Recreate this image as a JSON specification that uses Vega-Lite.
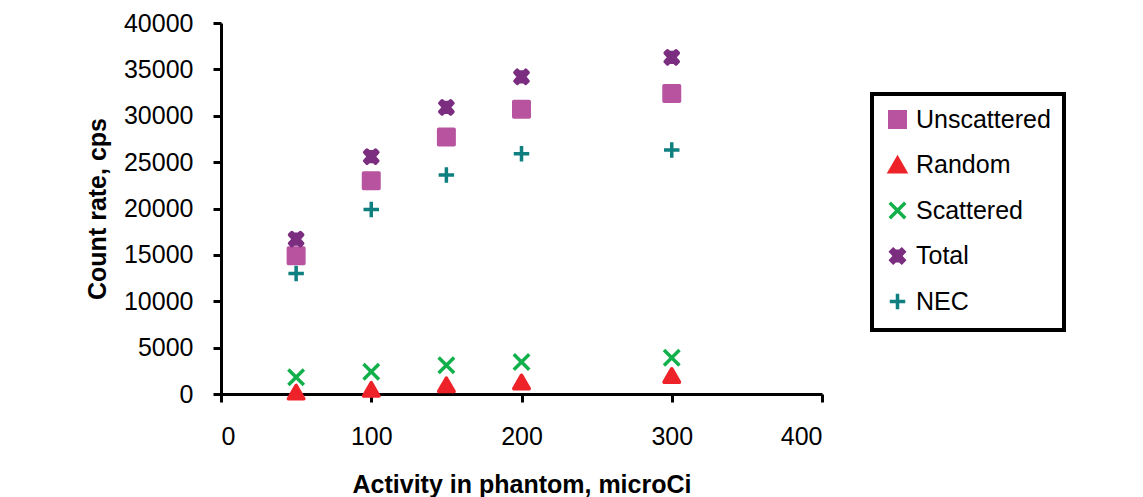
{
  "$schema": "https://vega.github.io/schema/vega-lite/v6.json",
  "autosize": {"type": "none"},
  "padding": {"left": 221, "top": 23, "right": 321, "bottom": 103},
  "width": 601,
  "height": 371,
  "background": "white",
  "config": {
    "view": {"stroke": null},
    "font": "Liberation Sans",
    "axis": {
      "grid": false,
      "domainColor": "black",
      "domainWidth": 3,
      "tickColor": "black",
      "tickWidth": 3,
      "tickSize": 8,
      "labelFont": "Liberation Sans",
      "labelFontSize": 25,
      "labelColor": "black",
      "titleFont": "Liberation Sans",
      "titleFontSize": 25,
      "titleFontWeight": "bold",
      "titleColor": "black"
    },
    "legend": {
      "orient": "none",
      "legendX": 651,
      "legendY": 71,
      "strokeColor": "black",
      "strokeWidth": 4,
      "padding": 13,
      "labelFont": "Liberation Sans",
      "labelFontSize": 25,
      "labelColor": "black",
      "labelOffset": 6,
      "rowPadding": 15.5,
      "symbolSize": 240,
      "symbolStrokeWidth": 3.5
    }
  },
  "data": {
    "values": [
      {"activity": 50, "series": "Unscattered", "rate": 14900},
      {"activity": 100, "series": "Unscattered", "rate": 23000},
      {"activity": 150, "series": "Unscattered", "rate": 27700},
      {"activity": 200, "series": "Unscattered", "rate": 30700},
      {"activity": 300, "series": "Unscattered", "rate": 32400},
      {"activity": 50, "series": "Random", "rate": 200},
      {"activity": 100, "series": "Random", "rate": 500},
      {"activity": 150, "series": "Random", "rate": 1000},
      {"activity": 200, "series": "Random", "rate": 1300},
      {"activity": 300, "series": "Random", "rate": 2000},
      {"activity": 50, "series": "Scattered", "rate": 1800},
      {"activity": 100, "series": "Scattered", "rate": 2400},
      {"activity": 150, "series": "Scattered", "rate": 3100},
      {"activity": 200, "series": "Scattered", "rate": 3450},
      {"activity": 300, "series": "Scattered", "rate": 3900},
      {"activity": 50, "series": "Total", "rate": 16700},
      {"activity": 100, "series": "Total", "rate": 25600},
      {"activity": 150, "series": "Total", "rate": 30900},
      {"activity": 200, "series": "Total", "rate": 34200},
      {"activity": 300, "series": "Total", "rate": 36300},
      {"activity": 50, "series": "NEC", "rate": 13000},
      {"activity": 100, "series": "NEC", "rate": 19900},
      {"activity": 150, "series": "NEC", "rate": 23600},
      {"activity": 200, "series": "NEC", "rate": 25900},
      {"activity": 300, "series": "NEC", "rate": 26300}
    ]
  },
  "mark": {"type": "point", "size": 240, "strokeWidth": 3.5, "opacity": 1, "strokeJoin": "round"},
  "encoding": {
    "x": {
      "field": "activity",
      "type": "quantitative",
      "scale": {"domain": [0, 400], "nice": false},
      "axis": {"title": "Activity in phantom,  microCi", "values": [0, 100, 200, 300, 400], "labelPadding": 22, "titlePadding": 23}
    },
    "y": {
      "field": "rate",
      "type": "quantitative",
      "scale": {"domain": [0, 40000], "nice": false},
      "axis": {"title": "Count rate, cps", "format": "d", "values": [0, 5000, 10000, 15000, 20000, 25000, 30000, 35000, 40000], "labelPadding": 20, "titlePadding": 13}
    },
    "fill": {
      "field": "series",
      "type": "nominal",
      "scale": {
        "domain": ["Unscattered", "Random", "Scattered", "Total", "NEC"],
        "range": ["#B8539F", "#EE2229", "#12B04B", "#7B2D80", "#0F7F7F"]
      },
      "legend": {"title": null}
    },
    "stroke": {
      "field": "series",
      "type": "nominal",
      "scale": {
        "domain": ["Unscattered", "Random", "Scattered", "Total", "NEC"],
        "range": ["#B8539F", "#EE2229", "#12B04B", "#7B2D80", "#0F7F7F"]
      },
      "legend": {"title": null}
    },
    "shape": {
      "field": "series",
      "type": "nominal",
      "scale": {
        "domain": ["Unscattered", "Random", "Scattered", "Total", "NEC"],
        "range": ["square", "triangle-up", "M-1,-1L1,1M1,-1L-1,1", "M-0.85,-0.55L-0.55,-0.85L0,-0.35L0.55,-0.85L0.85,-0.55L0.35,0L0.85,0.55L0.55,0.85L0,0.35L-0.55,0.85L-0.85,0.55L-0.35,0ZM0,-0.85L0,0.85", "M-1,0L1,0M0,-1L0,1"]
      },
      "legend": {"title": null}
    }
  }
}
